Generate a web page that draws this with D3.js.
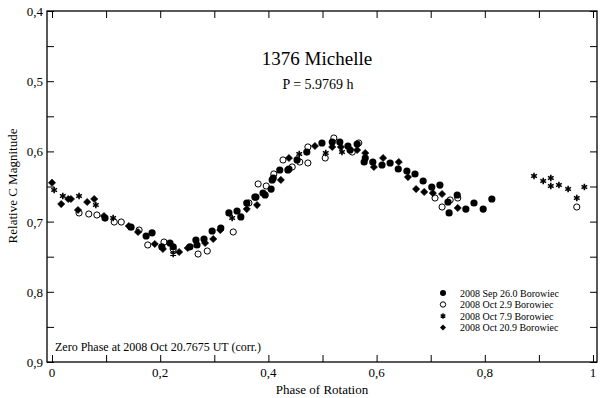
<!DOCTYPE html>
<html>
<head>
<meta charset="utf-8">
<script src="https://cdn.jsdelivr.net/npm/d3@7"></script>
<style>
  body { margin: 0; background: #fff; }
</style>
</head>
<body>
<div class="chart"></div>
<script>
// phase / relative magnitude pairs
const SEP26 = [
  [0.098, 0.695], [0.146, 0.708], [0.174, 0.7205], [0.185, 0.716], [0.203, 0.736],
  [0.218, 0.7305], [0.224, 0.736], [0.255, 0.736], [0.266, 0.7262], [0.268, 0.7333],
  [0.281, 0.7248], [0.296, 0.7134], [0.312, 0.7091], [0.327, 0.6877], [0.342, 0.6849],
  [0.349, 0.6934], [0.360, 0.6735], [0.375, 0.665], [0.377, 0.665], [0.390, 0.6593],
  [0.394, 0.6621], [0.405, 0.6536], [0.407, 0.6407], [0.409, 0.6379], [0.421, 0.6265],
  [0.436, 0.6265], [0.438, 0.6251], [0.453, 0.6122], [0.471, 0.6009], [0.499, 0.588],
  [0.518, 0.5866], [0.532, 0.5866], [0.547, 0.5923], [0.551, 0.598], [0.564, 0.5895],
  [0.577, 0.6151], [0.579, 0.6094], [0.593, 0.6151], [0.610, 0.6194], [0.625, 0.6165],
  [0.640, 0.6251], [0.656, 0.6279], [0.671, 0.6322], [0.686, 0.6422], [0.702, 0.6507],
  [0.717, 0.6479], [0.732, 0.6721], [0.734, 0.6877], [0.749, 0.6621], [0.765, 0.6821],
  [0.780, 0.6735], [0.797, 0.6821], [0.813, 0.6678]
];
const OCT02 = [
  [0.050, 0.6877], [0.068, 0.6892], [0.083, 0.6906], [0.115, 0.7006], [0.128, 0.7006],
  [0.161, 0.712], [0.177, 0.7333], [0.207, 0.7291], [0.224, 0.739], [0.270, 0.7462],
  [0.287, 0.7419], [0.335, 0.7148], [0.364, 0.6735], [0.381, 0.6464], [0.396, 0.6493],
  [0.410, 0.6322], [0.427, 0.6122], [0.444, 0.6222], [0.458, 0.6151], [0.473, 0.6165],
  [0.473, 0.5937], [0.505, 0.6094], [0.521, 0.5809], [0.555, 0.6009], [0.567, 0.588],
  [0.708, 0.6664], [0.721, 0.6792], [0.736, 0.6692], [0.750, 0.6664], [0.970, 0.6792]
];
const OCT07 = [
  [0.004, 0.655], [0.020, 0.6635], [0.050, 0.6635], [0.081, 0.6764], [0.113, 0.6949],
  [0.224, 0.7462], [0.333, 0.6949], [0.457, 0.6037], [0.506, 0.6023], [0.536, 0.6009],
  [0.891, 0.635], [0.908, 0.6422], [0.922, 0.6379], [0.922, 0.6493], [0.937, 0.6479],
  [0.954, 0.6536], [0.970, 0.6664], [0.984, 0.6507]
];
const OCT20 = [
  [0.000, 0.6446], [0.017, 0.675], [0.030, 0.6678], [0.035, 0.6678], [0.048, 0.6835],
  [0.065, 0.6721], [0.078, 0.6678], [0.096, 0.692], [0.142, 0.7063], [0.159, 0.7148],
  [0.190, 0.7319], [0.205, 0.739], [0.235, 0.7433], [0.251, 0.7376], [0.283, 0.7305],
  [0.298, 0.7248], [0.311, 0.712], [0.360, 0.6821], [0.379, 0.6764], [0.423, 0.6407],
  [0.438, 0.6094], [0.486, 0.5923], [0.518, 0.5937], [0.534, 0.5937], [0.564, 0.598],
  [0.579, 0.6023], [0.595, 0.6222], [0.612, 0.6094], [0.641, 0.6151], [0.658, 0.6365],
  [0.673, 0.6536], [0.688, 0.6578], [0.704, 0.6593], [0.721, 0.6607], [0.750, 0.6806]
];

const LEGEND = [
  "2008 Sep 26.0 Borowiec",
  "2008 Oct 2.9 Borowiec",
  "2008 Oct 7.9 Borowiec",
  "2008 Oct 20.9 Borowiec"
];
const X_TICKS = [0, 0.1, 0.2, 0.3, 0.4, 0.5, 0.6, 0.7, 0.8, 0.9, 1];
const X_LABELS = [0, 0.2, 0.4, 0.6, 0.8, 1];
const Y_TICKS = [0.4, 0.45, 0.5, 0.55, 0.6, 0.65, 0.7, 0.75, 0.8, 0.85, 0.9];
const Y_LABELS = [0.4, 0.5, 0.6, 0.7, 0.8, 0.9];

const W = 600, H = 398;
const frame = {left: 47, right: 597, top: 11, bottom: 362};

const x = d3.scaleLinear().domain([0, 1]).range([52, 593]);
const y = d3.scaleLinear().domain([0.4, 0.9]).range([frame.top, frame.bottom]);

const fmt = v => String(+v.toFixed(2)).replace(".", ",");

const svg = d3.select(".chart").append("svg")
  .attr("width", W).attr("height", H)
  .attr("font-family", "Liberation Serif");

// axes, ticks pointing inward on all four sides
const tickLen = 7;
svg.append("g").attr("transform", `translate(0,${frame.bottom})`)
  .call(d3.axisTop(x).tickValues(X_TICKS).tickSize(tickLen).tickFormat(""));
svg.append("g").attr("transform", `translate(0,${frame.top})`)
  .call(d3.axisBottom(x).tickValues(X_TICKS).tickSize(tickLen).tickFormat(""));
svg.append("g").attr("transform", `translate(${frame.left},0)`)
  .call(d3.axisRight(y).tickValues(Y_TICKS).tickSize(tickLen).tickFormat(""));
svg.append("g").attr("transform", `translate(${frame.right},0)`)
  .call(d3.axisLeft(y).tickValues(Y_TICKS).tickSize(tickLen).tickFormat(""));
svg.selectAll(".domain").remove();
svg.selectAll(".tick line").attr("stroke", "#000").attr("stroke-width", 1);
svg.selectAll("g").attr("font-family", null);

svg.append("rect")
  .attr("x", frame.left).attr("y", frame.top)
  .attr("width", frame.right - frame.left).attr("height", frame.bottom - frame.top)
  .attr("fill", "none").attr("stroke", "#000").attr("stroke-width", 1.3);

function label(px, py, txt, size, anchor) {
  return svg.append("text").attr("x", px).attr("y", py)
    .attr("text-anchor", anchor || "start")
    .attr("font-family", "Liberation Serif")
    .attr("font-size", size)
    .attr("fill", "#000").text(txt);
}

// tick labels
X_LABELS.forEach(d => label(x(d), frame.bottom + 15, fmt(d), 13, "middle"));
Y_LABELS.forEach(d => label(frame.left - 4, y(d) + 5, fmt(d), 13, "end"));

label(322, 394, "Phase of Rotation", 13, "middle");
label(0, 0, "Relative C Magnitude", 13, "middle")
  .attr("transform", "translate(17,186) rotate(-90)");

label(317, 65, "1376 Michelle", 19, "middle");
label(318, 89, "P = 5.9769 h", 14, "middle");
label(55, 351, "Zero Phase at 2008 Oct 20.7675 UT (corr.)", 12);

// markers
const star = d3.symbol().type(d3.symbolAsterisk).size(30)();
const diamond = d3.symbol().type(d3.symbolSquare).size(26)();

function drawCircles(data, filled) {
  svg.append("g").selectAll("circle").data(data).enter().append("circle")
    .attr("cx", d => x(d[0])).attr("cy", d => y(d[1]))
    .attr("r", filled ? 3.6 : 3.1)
    .attr("fill", filled ? "#000" : "#fff")
    .attr("stroke", "#000").attr("stroke-width", filled ? 0 : 1);
}
function drawStars(data) {
  svg.append("g").selectAll("path").data(data).enter().append("path")
    .attr("d", star)
    .attr("transform", d => `translate(${x(d[0])},${y(d[1])})`)
    .attr("fill", "none").attr("stroke", "#000").attr("stroke-width", 1.6);
}
function drawDiamonds(data) {
  svg.append("g").selectAll("path").data(data).enter().append("path")
    .attr("d", diamond)
    .attr("transform", d => `translate(${x(d[0])},${y(d[1])}) rotate(45)`)
    .attr("fill", "#000").attr("stroke", "#000").attr("stroke-width", 0.6);
}
drawCircles(OCT02, false);
drawStars(OCT07);
drawDiamonds(OCT20);
drawCircles(SEP26, true);

// legend
const leg = svg.append("g");
LEGEND.forEach((name, i) => {
  const ly = 293 + i * 11.5;
  const mx = 443;
  if (i === 0) leg.append("circle").attr("cx", mx).attr("cy", ly).attr("r", 3).attr("fill", "#000");
  if (i === 1) leg.append("circle").attr("cx", mx).attr("cy", ly).attr("r", 2.7)
    .attr("fill", "#fff").attr("stroke", "#000");
  if (i === 2) leg.append("path").attr("d", d3.symbol().type(d3.symbolAsterisk).size(20)())
    .attr("transform", `translate(${mx},${ly})`).attr("fill", "none").attr("stroke", "#000").attr("stroke-width", 1.4);
  if (i === 3) leg.append("path").attr("d", d3.symbol().type(d3.symbolSquare).size(18)())
    .attr("transform", `translate(${mx},${ly}) rotate(45)`).attr("fill", "#000");
  label(460, ly + 3.5, name, 10);
});
</script>
</body>
</html>
